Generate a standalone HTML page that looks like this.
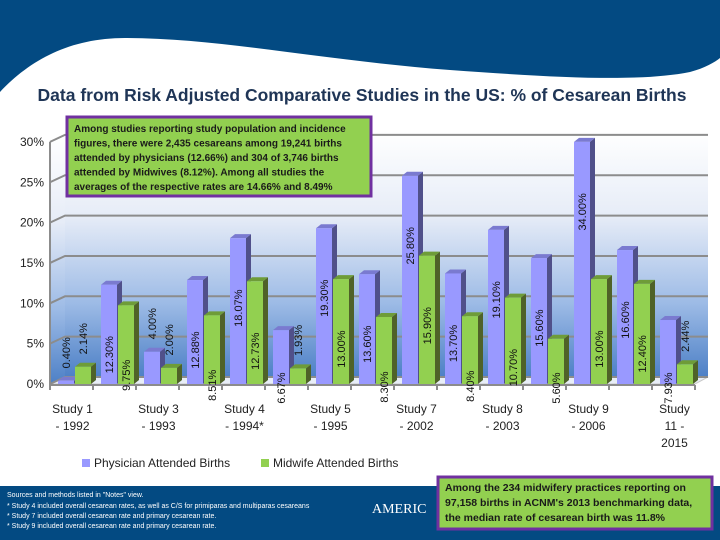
<!DOCTYPE html>
<html><head><meta charset="utf-8">
<style>
body{margin:0;width:720px;height:540px;overflow:hidden;background:#fff;font-family:"Liberation Sans",sans-serif;}
#wrap{position:relative;width:720px;height:540px;}
svg{position:absolute;left:0;top:0;}
</style></head>
<body>
<div id="wrap">
<svg id="chart" width="720" height="540">
  <defs>
    <linearGradient id="wallg" x1="0" y1="0" x2="0" y2="1">
      <stop offset="0" stop-color="#ffffff"/>
      <stop offset="0.35" stop-color="#e6ecf7"/>
      <stop offset="0.7" stop-color="#9dbbe6"/>
      <stop offset="1" stop-color="#4d80c6"/>
    </linearGradient>
  </defs>
  <rect x="0" y="0" width="720" height="95" fill="#034a82"/>
  <path d="M0 92 C30 60 70 38 125 38 C220 38 320 60 450 70 C560 78 640 82 690 72 C705 68 715 62 720 58 L720 100 L0 100 Z" fill="#fff"/>
  <text x="362" y="101" text-anchor="middle" font-size="17.5" font-weight="bold" fill="#1f3556">Data from Risk Adjusted Comparative Studies in the US:  % of Cesarean Births</text>
  <g id="plot"></g>
  <rect x="0" y="486" width="720" height="54" fill="#034a82"/>
  <g font-size="7" fill="#fff">
    <text x="7" y="497">Sources and methods listed in "Notes" view.</text>
    <text x="7" y="508">* Study 4 included overall cesarean rates, as well as C/S for primiparas and multiparas cesareans</text>
    <text x="7" y="518">* Study 7 included overall cesarean rate and primary cesarean rate.</text>
    <text x="7" y="528">* Study 9 included overall cesarean rate and primary cesarean rate.</text>
  </g>
  <text x="372" y="513" font-size="14" fill="#fff" font-family="Liberation Serif, serif">AMERIC</text>
  <rect x="438" y="477" width="274" height="52" fill="#92d050" stroke="#7030a0" stroke-width="3"/>
  <g font-size="10.5" font-weight="bold" fill="#1a1a1a">
    <text x="445" y="491">Among the 234 midwifery practices reporting on</text>
    <text x="445" y="506">97,158 births in ACNM's 2013 benchmarking data,</text>
    <text x="445" y="521">the median rate of cesarean birth was 11.8%</text>
  </g>
</svg>
</div>
<script>
const categories=["Study 1|- 1992","","Study 3|- 1993","","Study 4|- 1994*","","Study 5|- 1995","","Study 7|- 2002","","Study 8|- 2003","","Study 9|- 2006","","Study|11 -|2015"];
const physician=[0.40,12.30,4.00,12.88,18.07,6.67,19.30,13.60,25.80,13.70,19.10,15.60,34.00,16.60,7.93];
const midwife=[2.14,9.75,2.00,8.51,12.73,1.93,13.00,8.30,15.90,8.40,10.70,5.60,13.00,12.40,2.44];
const yTicks=[0,5,10,15,20,25,30];

const NS="http://www.w3.org/2000/svg";
const g=document.getElementById('plot');
function mk(tag,attrs,parent){const e=document.createElementNS(NS,tag);for(const k in attrs)e.setAttribute(k,attrs[k]);(parent||g).appendChild(e);return e;}
const X0=50,SLOT=43,DX=15,DY=7,BASE=384,SC=8.07,YMAX=30;
const yAxis=v=>BASE-Math.min(v,YMAX)*SC;
const xSlot=i=>X0+i*SLOT;
// walls
let w=mk('polygon',{points:`${X0+DX},${yAxis(YMAX)-DY-4} 708,${yAxis(YMAX)-DY-4} 708,${BASE-DY} ${X0+DX},${BASE-DY}`,fill:'url(#wallg)'});

w=mk('polygon',{points:`${X0},${yAxis(YMAX)} ${X0+DX},${yAxis(YMAX)-DY} ${X0+DX},${BASE-DY} ${X0},${BASE}`,fill:'url(#wallg)'});

w=mk('polygon',{points:`${X0},${BASE} ${X0+DX},${BASE-DY} 708,${BASE-DY} ${X0+645},${BASE}`,fill:'#e8eef8',stroke:'#c8c8c8'});

yTicks.forEach(t=>{
  const y=yAxis(t);
  const l=mk('polyline',{points:`${X0},${y} ${X0+DX},${y-DY} 708,${y-DY}`,fill:'none',stroke:'#8c8c8c','stroke-width':2});
  
  const tx=mk('text',{x:44,y:y+4,'text-anchor':'end','font-size':12,fill:'#222'});
  tx.textContent=t+'%';
  
});
let ax=mk('line',{x1:X0,y1:yAxis(YMAX),x2:X0,y2:BASE+1,stroke:'#8c8c8c','stroke-width':2});

ax=mk('line',{x1:X0,y1:BASE+1,x2:X0+645,y2:BASE+1,stroke:'#8c8c8c','stroke-width':2});

for(let i=0;i<=categories.length;i++){
  const t=mk('line',{x1:xSlot(i),y1:BASE+1,x2:xSlot(i),y2:BASE+6,stroke:'#8c8c8c','stroke-width':2});
  
}
function bar(x,v,cols,name){
  const w=16,d=5,top=yAxis(v);
  const grp=mk('g',{});
  
  
  mk('polygon',{points:`${x+w},${top} ${x+w+d},${top-4} ${x+w+d},${BASE-4} ${x+w},${BASE}`,fill:cols[1]},grp);
  mk('polygon',{points:`${x},${top} ${x+d},${top-4} ${x+w+d},${top-4} ${x+w},${top}`,fill:cols[2]},grp);
  mk('rect',{x:x,y:top,width:w,height:BASE-top,fill:cols[0]},grp);
  const cx=x+w/2+1;
  const cy=v<5?top-28:Math.min(top+70,388);
  const lb=mk('text',{x:cx,y:cy,transform:`rotate(-90 ${cx} ${cy})`,'text-anchor':'middle','dominant-baseline':'central','font-size':11,fill:'#111'});
  lb.textContent=v.toFixed(2)+'%';
  
  
}
categories.forEach((c,i)=>{
  const sx=xSlot(i);
  bar(sx+8,physician[i],['#9999ff','#50508a','#7a7ad0'],'physician-bar-'+(i+1));
  bar(sx+25,midwife[i],['#92d050','#4f6228','#6e9c38'],'midwife-bar-'+(i+1));
  if(c){
    const lines=c.split('|');
    lines.forEach((ln,k)=>{
      const t=mk('text',{x:sx+SLOT/2+1,y:413+k*17,'text-anchor':'middle','font-size':12,fill:'#222'});
      t.textContent=ln;
      
      
    });
  }
});
// legend
let lg=mk('rect',{x:82,y:459,width:8,height:8,fill:'#9999ff'});

lg=mk('text',{x:94,y:467,'font-size':12,fill:'#222'});lg.textContent='Physician Attended Births';

lg=mk('rect',{x:261,y:459,width:8,height:8,fill:'#92d050'});

lg=mk('text',{x:273,y:467,'font-size':12,fill:'#222'});lg.textContent='Midwife Attended Births';

// callout box
let cb=mk('rect',{x:67,y:117,width:304,height:79,fill:'#92d050',stroke:'#7030a0','stroke-width':3});

["Among studies reporting study population and incidence","figures, there were 2,435 cesareans among 19,241 births","attended by physicians (12.66%) and 304 of 3,746 births","attended by Midwives (8.12%).  Among all studies the","averages of the respective rates are 14.66% and 8.49%"].forEach((s,k)=>{
  const t=mk('text',{x:74,y:132+k*14.5,'font-size':10,'font-weight':'bold',fill:'#1a1a1a'});
  t.textContent=s;
  
  
});
</script>
</body></html>
